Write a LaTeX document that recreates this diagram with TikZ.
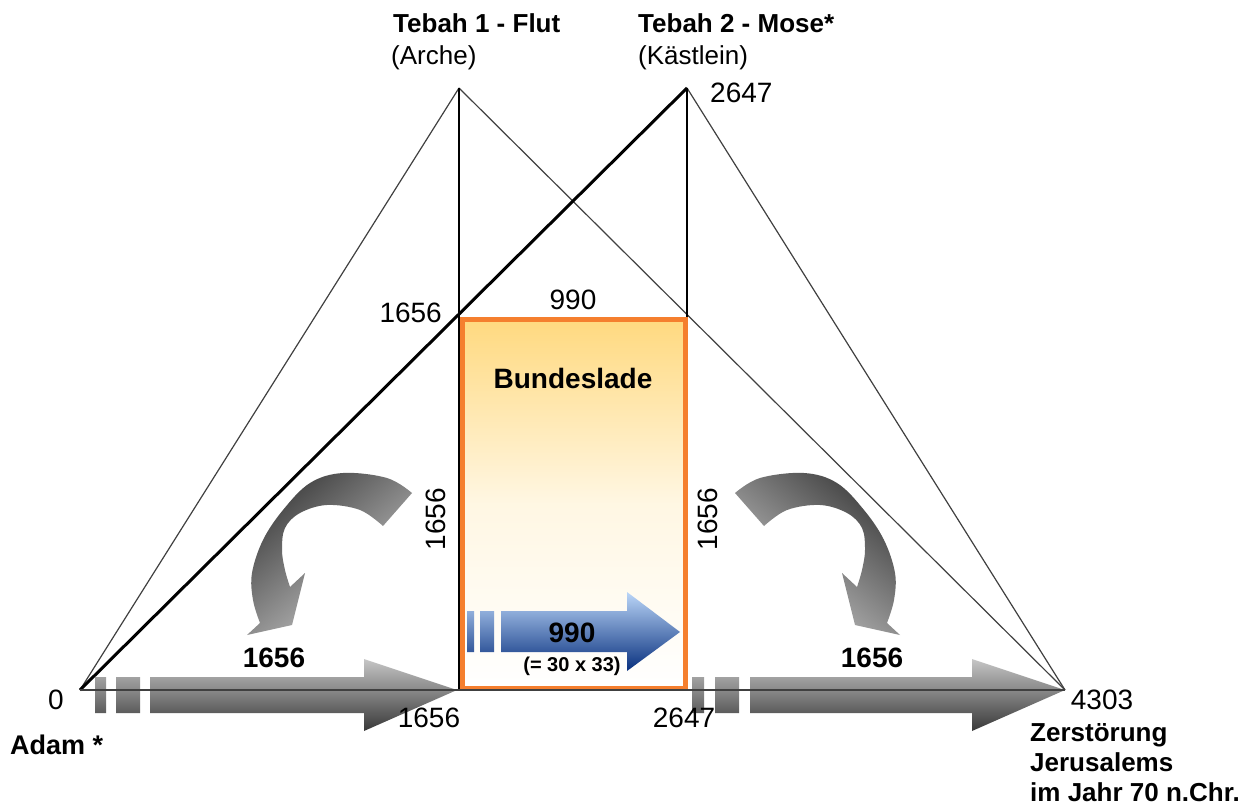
\documentclass[tikz,border=0pt]{standalone}
\usepackage{fontspec}
\setmainfont{Liberation Sans}
\begin{document}
\begin{tikzpicture}[x=1pt,y=-1pt,
  thinline/.style={draw=black!75, line width=1.2pt},
  thickline/.style={draw=black, line width=3pt},
  postline/.style={draw=black, line width=1.5pt},
  txt/.style={inner sep=0pt, font=\fontsize{28}{32}\selectfont},
  btxt/.style={inner sep=0pt, font=\fontsize{28}{32}\selectfont\bfseries},
  ttl/.style={inner sep=0pt, anchor=base west, font=\fontsize{26}{30}\selectfont\bfseries},
  sub/.style={inner sep=0pt, anchor=base west, font=\fontsize{26}{30}\selectfont},
  grayarrow/.style={top color=gray!45, bottom color=black!78},
  curvarrow/.style={top color=black!75, bottom color=black!20},
]
\definecolor{boxorange}{HTML}{F57F2E}
\definecolor{boxtop}{HTML}{FFD97F}
\definecolor{arrowbluelight}{HTML}{BBD6F8}
\definecolor{arrowbluedark}{HTML}{08307E}
\useasboundingbox (0,0) rectangle (1258,805);

% key points of the two triangles
\coordinate (A)  at (80,690);
\coordinate (T1) at (459,88);
\coordinate (T2) at (687,88);
\coordinate (E)  at (1065,690);
\coordinate (B1) at (459,690);
\coordinate (B2) at (687,690);

% triangle sides and posts
\draw[thinline] (A) -- (T1);
\draw[thinline] (T1) -- (E);
\draw[thinline] (T2) -- (E);
\draw[thickline] (A) -- (T2);
\draw[postline] (T1) -- (B1);
\draw[postline] (T2) -- (B2);

% the ark
\shade[top color=boxtop, bottom color=white, middle color=boxtop!22!white]
  (462,319) rectangle (685,688);
\draw[draw=boxorange, line width=5pt] (462,319) rectangle (685,688);

% broad timeline arrows
\shade[grayarrow] (95,677) rectangle (106,713) (116,677) rectangle (140,713)
  (150,677) -- (364,677) -- (364,659) -- (457,690) -- (364,731) -- (364,713) -- (150,713) -- cycle;
\shade[grayarrow] (692,677) rectangle (704,713) (715,677) rectangle (739,713)
  (750,677) -- (972,677) -- (972,659) -- (1065,690) -- (972,731) -- (972,713) -- (750,713) -- cycle;

% timeline
\draw[thinline] (A) -- (E);

% arrow inside the ark
\shade[top color=arrowbluelight, bottom color=arrowbluedark]
  (467,611) rectangle (474,652) (480,611) rectangle (494,652)
  (501,611) -- (627,611) -- (627,592) -- (680,632) -- (627,671) -- (627,652) -- (501,652) -- cycle;

% curved arrows, mirror images of each other
\shade[curvarrow, shading angle=40] (412,493) -- plot[smooth, tension=0.6] coordinates {(412,493) (387,478) (343,473) (310,483) (283,510) (263,540) (252,573) (253,600) (260,623)}
  -- (247,635) -- (292,625) -- (305,573) -- (290,587)
  -- plot[smooth, tension=0.6] coordinates {(290,587) (285,570) (282,550) (285,528) (300,513) (327,505) (360,510) (383,526)} -- cycle;
\shade[curvarrow, shading angle=-40] (735,493) -- plot[smooth, tension=0.6] coordinates {(735,493) (760,478) (804,473) (837,483) (864,510) (884,540) (895,573) (894,600) (887,623)}
  -- (900,635) -- (855,625) -- (842,573) -- (857,587)
  -- plot[smooth, tension=0.6] coordinates {(857,587) (862,570) (865,550) (862,528) (847,513) (820,505) (787,510) (764,526)} -- cycle;

% labels
\node[ttl] (t1) at (393,33) {Tebah 1 - Flut};
\node[sub] (t1s) at (391,65) {(Arche)};
\node[ttl] (t2) at (638,33) {Tebah 2 - Mose*};
\node[sub] (t2s) at (638,65) {(Kästlein)};
\node[txt, anchor=base west] (top2647) at (710,103) {2647};
\node[txt, anchor=east] (l1656) at (442,313) {1656};
\node[txt] (top990) at (573,300) {990};
\node[btxt] (lade) at (573,378) {Bundeslade};
\node[txt, rotate=90] (v1) at (436,519) {1656};
\node[txt, rotate=90] (v2) at (708,519) {1656};
\node[btxt] (a1) at (274,658) {1656};
\node[btxt] (a2) at (872,658) {1656};
\node[btxt] (b990) at (572,633) {990};
\node[inner sep=0pt, font=\fontsize{20}{24}\selectfont\bfseries] (prod) at (572,666) {(= 30 x 33)};
\node[txt] (zero) at (56,700) {0};
\node[txt] (b1656) at (429,718) {1656};
\node[txt] (b2647) at (684,718) {2647};
\node[txt] (end) at (1102,700) {4303};
\node[btxt, anchor=west, font=\fontsize{27}{30}\selectfont\bfseries] (adam) at (10,745) {Adam *};
\node[inner sep=0pt, anchor=north west, align=left, font=\fontsize{26}{30}\selectfont\bfseries] (jer) at (1030,723)
  {Zerstörung\\Jerusalems\\im Jahr 70 n.Chr.};
\end{tikzpicture}
\end{document}
